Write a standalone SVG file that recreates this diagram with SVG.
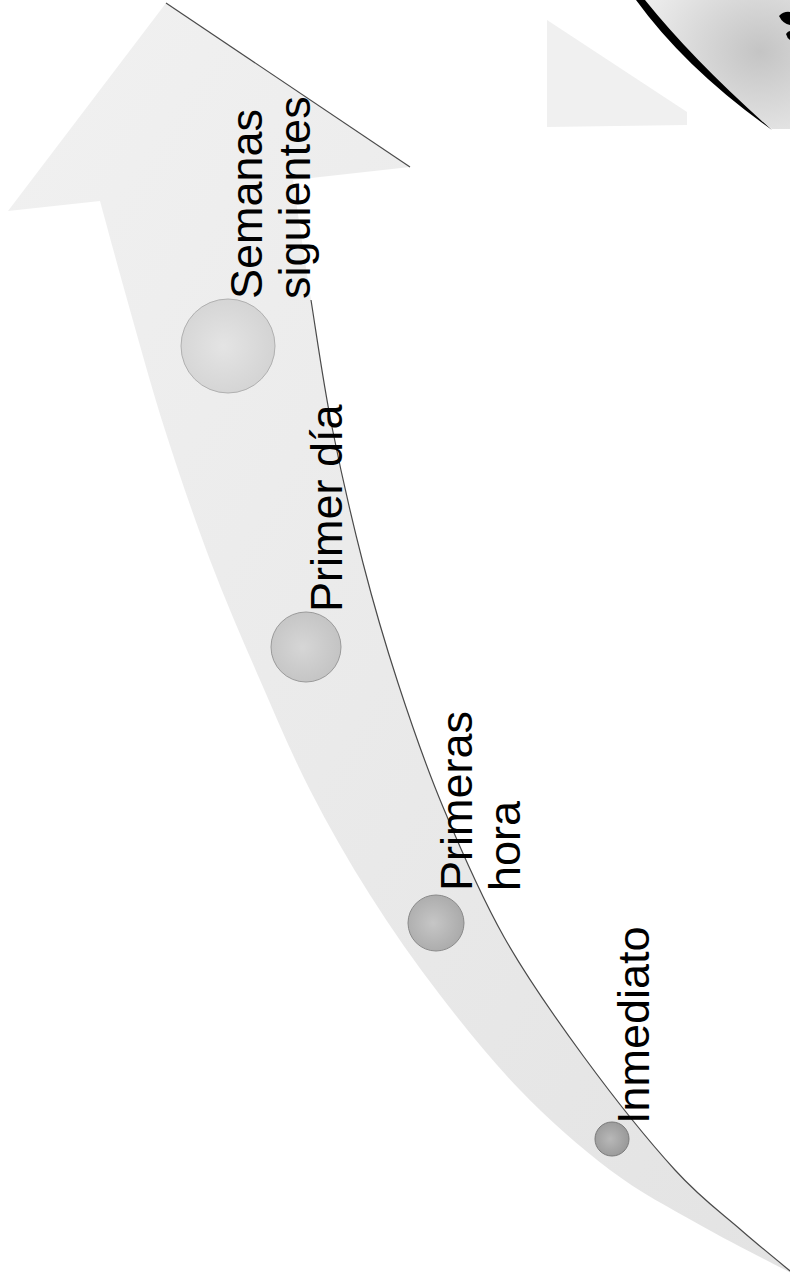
<svg xmlns="http://www.w3.org/2000/svg" width="790" height="1277" viewBox="0 0 790 1277">
  <defs>
    <style>
      .lbl { font-family: "Liberation Sans", Arial, sans-serif; font-size: 45px; fill: #000; }
      .edge { fill: none; stroke: #4a4a4a; stroke-width: 1.2; }
      .dot { stroke-width: 1; }
    </style>
    <linearGradient id="arrowFill" x1="0" y1="0" x2="1" y2="1">
      <stop offset="0" stop-color="#f1f1f1"/>
      <stop offset="1" stop-color="#e3e3e3"/>
    </linearGradient>
    <radialGradient id="sphere" cx="0.8" cy="0.4" r="0.9">
      <stop offset="0" stop-color="#c4c4c4"/>
      <stop offset="1" stop-color="#f0f0f0"/>
    </radialGradient>
    <radialGradient id="c1" cx="0.45" cy="0.5" r="0.6">
      <stop offset="0" stop-color="#e4e4e4"/>
      <stop offset="1" stop-color="#d2d2d2"/>
    </radialGradient>
    <radialGradient id="c2" cx="0.45" cy="0.5" r="0.6">
      <stop offset="0" stop-color="#d6d6d6"/>
      <stop offset="1" stop-color="#c2c2c2"/>
    </radialGradient>
    <radialGradient id="c3" cx="0.45" cy="0.5" r="0.6">
      <stop offset="0" stop-color="#c6c6c6"/>
      <stop offset="1" stop-color="#a8a8a8"/>
    </radialGradient>
    <radialGradient id="c4" cx="0.45" cy="0.5" r="0.6">
      <stop offset="0" stop-color="#b8b8b8"/>
      <stop offset="1" stop-color="#969696"/>
    </radialGradient>
  </defs>

  <rect x="0" y="0" width="790" height="1277" fill="#ffffff"/>

  <!-- top-right partial graphic -->
  <g id="corner-graphic">
    <polygon points="547,20 687,112 687,125 547,127" fill="#f0f0f0"/>
    <path d="M640,0 Q690,65 772,129 L790,129 L790,0 Z" fill="url(#sphere)"/>
    <path d="M636,0 Q686,69 772,130 Q694,61 645,0 Z" fill="#000"/>
    <path d="M779,16 Q784,11 790,12 L790,25 Q783,24 779,16 Z" fill="#000"/>
    <path d="M786,34 Q788,31 790,31 L790,40 Q787,38 786,34 Z" fill="#000"/>
  </g>

  <!-- big curved arrow -->
  <g id="timeline-arrow">
    <path d="M166,3 L410,167 L293,180
             C296,200 304.5,258.8 311,300
             C317.5,341.2 323.3,383.2 332,427
             C340.7,470.8 352,520.3 363,563
             C374,605.7 384.7,642.3 398,683
             C411.3,723.7 425.3,764.7 443,807
             C460.7,849.3 480.5,895.3 504,937
             C527.5,978.7 555.5,1018.2 584,1057
             C612.5,1095.8 648.8,1141.2 675,1170
             C701.2,1198.8 721,1212.5 741,1230
             C761,1247.5 786,1267.5 795,1275
             C779.2,1266.7 730.8,1242.5 700,1225
             C669.2,1207.5 640,1192.5 610,1170
             C580,1147.5 548.3,1119.2 520,1090
             C491.7,1060.8 465,1027.5 440,995
             C415,962.5 391.7,929.2 370,895
             C348.3,860.8 328.3,825.8 310,790
             C291.7,754.2 276.7,718.3 260,680
             C243.3,641.7 225.8,601.7 210,560
             C194.2,518.3 178.3,471.7 165,430
             C151.7,388.3 140.8,348.2 130,310
             C119.2,271.8 105,219.2 100,201
             L8,211 Z" fill="url(#arrowFill)"/>
  </g>

  <g id="connectors">
    <path class="edge" d="M166,3 L410,167"/>
    <path class="edge" d="M311,300
             C317.5,341.2 323.3,383.2 332,427
             C340.7,470.8 352,520.3 363,563
             C374,605.7 384.7,642.3 398,683
             C411.3,723.7 425.3,764.7 443,807
             C460.7,849.3 480.5,895.3 504,937
             C527.5,978.7 555.5,1018.2 584,1057
             C612.5,1095.8 648.8,1141.2 675,1170
             C701.2,1198.8 721,1212.5 741,1230
             C761,1247.5 786,1267.5 795,1275"/>
  </g>

  <g id="node-semanas">
    <circle class="dot" cx="228" cy="346" r="47" fill="url(#c1)" stroke="#b0b0b0"/>
    <text class="lbl" transform="translate(262,299) rotate(-90)"><tspan x="0" y="0">Semanas</tspan><tspan x="0" y="48">siguientes</tspan></text>
  </g>

  <g id="node-primer-dia">
    <circle class="dot" cx="306" cy="647" r="35" fill="url(#c2)" stroke="#9a9a9a"/>
    <text class="lbl" transform="translate(342,612) rotate(-90)">Primer día</text>
  </g>

  <g id="node-primeras-hora">
    <circle class="dot" cx="436" cy="923" r="28" fill="url(#c3)" stroke="#8a8a8a"/>
    <text class="lbl" transform="translate(472,891) rotate(-90)"><tspan x="0" y="0">Primeras</tspan><tspan x="0" y="48">hora</tspan></text>
  </g>

  <g id="node-inmediato">
    <circle class="dot" cx="612" cy="1139" r="17" fill="url(#c4)" stroke="#7a7a7a"/>
    <text class="lbl" transform="translate(649,1124) rotate(-90)">Inmediato</text>
  </g>
</svg>
